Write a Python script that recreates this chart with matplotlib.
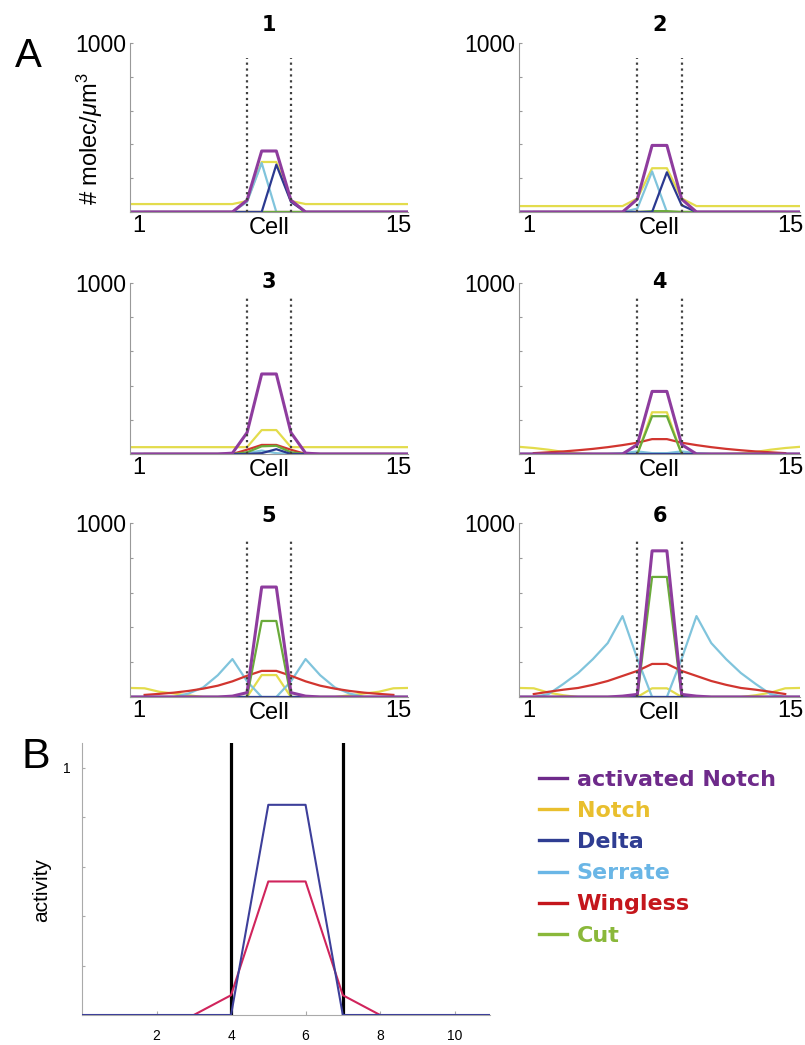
import numpy as np
import matplotlib
matplotlib.use("Agg")
import matplotlib.pyplot as plt
from matplotlib.lines import Line2D

plt.rcParams['font.family'] = ['Liberation Sans', 'DejaVu Sans']
plt.rcParams['mathtext.fontset'] = 'custom'
plt.rcParams['mathtext.rm'] = 'Liberation Sans'
plt.rcParams['mathtext.it'] = 'Liberation Sans:italic'

nan = np.nan

# 20 compartments spread over cells 1..15
CELL_X = np.linspace(0.5, 15.5, 20)
BOUNDARY_IDX = [8, 11]

# panel A values, molecules / um^3, one list per species and time point
ACT = [
    [0, 0, 0, 0, 0, 0, 0, 0, 70, 361, 361, 70, 0, 0, 0, 0, 0, 0, 0, 0],
    [0, 0, 0, 0, 0, 0, 0, 0, 76, 394, 394, 76, 0, 0, 0, 0, 0, 0, 0, 0],
    [0, 0, 0, 0, 0, 0, 0, 5, 125, 468, 468, 125, 5, 0, 0, 0, 0, 0, 0, 0],
    [0, 0, 0, 0, 0, 0, 0, 0, 55, 366, 366, 55, 0, 0, 0, 0, 0, 0, 0, 0],
    [0, 0, 0, 0, 0, 0, 0, 5, 25, 632, 632, 25, 5, 0, 0, 0, 0, 0, 0, 0],
    [0, 0, 0, 0, 0, 0, 0, 5, 15, 840, 840, 15, 5, 0, 0, 0, 0, 0, 0, 0],
]
NOTCH = [
    [47, 47, 47, 47, 47, 47, 47, 47, 65, 296, 296, 65, 47, 47, 47, 47, 47, 47, 47, 47],
    [35, 35, 35, 35, 35, 35, 35, 35, 80, 259, 259, 80, 35, 35, 35, 35, 35, 35, 35, 35],
    [40, 40, 40, 40, 40, 40, 40, 40, 40, 140, 140, 40, 40, 40, 40, 40, 40, 40, 40, 40],
    [42, 35, 25, 12, 3, 0, 0, 0, 0, 244, 244, 0, 0, 0, 0, 3, 12, 25, 35, 42],
    [52, 50, 30, 20, 10, 0, 0, 0, 0, 126, 126, 0, 0, 0, 0, 10, 20, 30, 50, 52],
    [52, 50, 25, 10, 0, 0, 0, 0, 0, 50, 50, 0, 0, 0, 0, 0, 10, 25, 50, 52],
]
DELTA = [
    [0, 0, 0, 0, 0, 0, 0, 0, 0, 0, 280, 60, 0, 0, 0, 0, 0, 0, 0, 0],
    [0, 0, 0, 0, 0, 0, 0, 0, 0, 0, 235, 40, 0, 0, 0, 0, 0, 0, 0, 0],
    [0, 0, 0, 0, 0, 0, 0, 0, 0, 5, 28, 0, 0, 0, 0, 0, 0, 0, 0, 0],
    [0, 0, 0, 0, 0, 0, 0, 0, 0, 0, 0, 0, 0, 0, 0, 0, 0, 0, 0, 0],
    [0, 0, 0, 0, 0, 0, 0, 0, 0, 0, 0, 0, 0, 0, 0, 0, 0, 0, 0, 0],
    [0, 0, 0, 0, 0, 0, 0, 0, 0, 0, 0, 0, 0, 0, 0, 0, 0, 0, 0, 0],
]
SERRATE = [
    [0, 0, 0, 0, 0, 0, 0, 0, 60, 290, 0, 0, 0, 0, 0, 0, 0, 0, 0, 0],
    [0, 0, 0, 0, 0, 0, 0, 0, 20, 240, 0, 0, 0, 0, 0, 0, 0, 0, 0, 0],
    [0, 0, 0, 0, 0, 0, 0, 0, 5, 20, 5, 0, 0, 0, 0, 0, 0, 0, 0, 0],
    [0, 0, 0, 0, 0, 0, 0, 5, 15, 5, 5, 15, 5, 0, 0, 0, 0, 0, 0, 0],
    [0, 0, 0, 0, 20, 55, 125, 218, 90, 0, 0, 90, 218, 125, 55, 20, 0, 0, 0, 0],
    [0, 0, 17, 75, 138, 218, 310, 465, 220, 0, 0, 220, 465, 310, 218, 138, 75, 17, 0, 0],
]
WINGLESS = [
    [nan, 0, 0, 0, 0, 0, 0, 0, 0, 0, 0, 0, 0, 0, 0, 0, 0, 0, 0, nan],
    [nan, 0, 0, 0, 0, 0, 0, 0, 0, 0, 0, 0, 0, 0, 0, 0, 0, 0, 0, nan],
    [nan, 0, 0, 0, 0, 0, 0, 0, 25, 53, 53, 25, 0, 0, 0, 0, 0, 0, 0, nan],
    [nan, 5, 10, 15, 22, 30, 40, 52, 66, 87, 87, 66, 52, 40, 30, 22, 15, 10, 5, nan],
    [nan, 12, 18, 25, 35, 48, 65, 90, 122, 150, 150, 122, 90, 65, 48, 35, 25, 18, 12, nan],
    [nan, 17, 30, 42, 52, 70, 92, 121, 150, 190, 190, 150, 121, 92, 70, 52, 42, 30, 17, nan],
]
CUT = [
    [0, 0, 0, 0, 0, 0, 0, 0, 0, 0, 0, 0, 0, 0, 0, 0, 0, 0, 0, 0],
    [0, 0, 0, 0, 0, 0, 0, 0, 0, 5, 5, 0, 0, 0, 0, 0, 0, 0, 0, 0],
    [0, 0, 0, 0, 0, 0, 0, 0, 10, 45, 48, 10, 0, 0, 0, 0, 0, 0, 0, 0],
    [0, 0, 0, 0, 0, 0, 0, 0, 0, 221, 221, 0, 0, 0, 0, 0, 0, 0, 0, 0],
    [0, 0, 0, 0, 0, 0, 0, 0, 0, 437, 437, 0, 0, 0, 0, 0, 0, 0, 0, 0],
    [0, 0, 0, 0, 0, 0, 0, 0, 0, 690, 690, 0, 0, 0, 0, 0, 0, 0, 0, 0],
]
PANEL_TITLES = ['1', '2', '3', '4', '5', '6']

# panel B
B_X = [0, 1, 2, 3, 4, 5, 6, 7, 8, 9, 10, 11]
B_BLUE = [0, 0, 0, 0, 0, 0.85, 0.85, 0, 0, 0, 0, 0]
B_PINK = [nan, nan, nan, 0, 0.08, 0.54, 0.54, 0.08, 0, nan, nan, nan]
B_BOUNDS = [4, 7]

LEGEND_NAMES = ['activated Notch', 'Notch', 'Delta', 'Serrate', 'Wingless', 'Cut']
LEGEND_COLORS = ['#6e2a8a', '#e9bf2e', '#2f3d92', '#6ab6e6', '#c4161c', '#8ab83a']

C_ACT = '#8e3c9e'
C_NOTCH = '#e3dc4c'
C_DELTA = '#2b3990'
C_SERR = '#80c4dc'
C_WG = '#d1352f'
C_CUT = '#6aaa3a'

W, H = 805, 1045
fig = plt.figure(figsize=(W / 100, H / 100), dpi=100)


def px_axes(left, top, right, bottom):
    return fig.add_axes([left / W, 1 - bottom / H, (right - left) / W, (bottom - top) / H])


row_tops = [43, 283, 523]
row_bottoms = [212, 454, 697]
col_lefts = [130, 519]
col_rights = [408, 800]
title_y = [25, 282, 516]

for i in range(6):
    r, c = divmod(i, 2)
    ax = px_axes(col_lefts[c], row_tops[r], col_rights[c], row_bottoms[r])
    ax.plot(CELL_X, NOTCH[i], color=C_NOTCH, lw=1.6)
    ax.plot(CELL_X, SERRATE[i], color=C_SERR, lw=1.6)
    ax.plot(CELL_X, WINGLESS[i], color=C_WG, lw=1.6)
    ax.plot(CELL_X, CUT[i], color=C_CUT, lw=1.6)
    ax.plot(CELL_X, DELTA[i], color=C_DELTA, lw=1.6)
    ax.plot(CELL_X, ACT[i], color=C_ACT, lw=2.2)
    ax.vlines(CELL_X[BOUNDARY_IDX], 0, 910, colors='#404040', linestyles=':', lw=1.6)

    ax.set_xlim(0.5, 15.5)
    ax.set_ylim(0, 1000)
    ax.set_xticks([1, 15])
    ax.set_xticklabels(['1', '15'], fontsize=17)
    ax.set_yticks([0, 200, 400, 600, 800, 1000])
    ax.set_yticklabels(['', '', '', '', '', '1000'], fontsize=16.5)
    ax.tick_params(axis='x', length=0, pad=2)
    ax.tick_params(axis='y', direction='in', length=2, color='#999999', pad=3)
    for s in ['top', 'right']:
        ax.spines[s].set_visible(False)
    for s in ['left', 'bottom']:
        ax.spines[s].set_color('#999999')
        ax.spines[s].set_linewidth(0.8)
    ax.text(0.5, -0.03, 'Cell', transform=ax.transAxes, ha='center', va='top', fontsize=17)

    cx = (col_lefts[c] + col_rights[c]) / 2
    fig.text(cx / W, 1 - title_y[r] / H, PANEL_TITLES[i], ha='center', va='center',
             fontsize=15, fontweight='bold', family='DejaVu Sans')

fig.text(90 / W, 1 - 139 / H, r'# molec/$\mu$m$^3$', rotation=90, ha='center', va='center', fontsize=17)
fig.text(28 / W, 1 - 56 / H, 'A', ha='center', va='center', fontsize=29)
fig.text(36 / W, 1 - 757 / H, 'B', ha='center', va='center', fontsize=31)

# panel B
axb = px_axes(82, 743, 490, 1015)
for xb in B_BOUNDS:
    axb.axvline(xb, color='black', lw=2.3, zorder=3)
axb.plot(B_X, B_PINK, color='#d0245c', lw=1.5, zorder=4)
axb.plot(B_X, B_BLUE, color='#3d3f9a', lw=1.5, zorder=5)
axb.set_xlim(0, 10.95)
axb.set_ylim(0, 1.1)
axb.set_xticks([2, 4, 6, 8, 10])
axb.set_xticklabels(['2', '4', '6', '8', '10'], fontsize=10)
axb.set_yticks([0.2, 0.4, 0.6, 0.8, 1.0])
axb.set_yticklabels(['', '', '', '', '1'], fontsize=10)
axb.tick_params(axis='x', direction='in', length=3, color='#aaaaaa', pad=10)
axb.tick_params(axis='y', direction='in', length=2, color='#aaaaaa', pad=8)
for s in ['top', 'right']:
    axb.spines[s].set_visible(False)
for s in ['left', 'bottom']:
    axb.spines[s].set_color('#aaaaaa')
    axb.spines[s].set_linewidth(0.8)
axb.set_ylabel('activity', fontsize=15)
axb.yaxis.set_label_coords(-0.075, 0.46)

handles = [Line2D([], [], color=col, lw=2.4) for col in LEGEND_COLORS]
leg = fig.legend(handles, LEGEND_NAMES, loc='upper left', bbox_to_anchor=(539 / W, 1 - 770 / H),
                 frameon=False, borderpad=0, borderaxespad=0, handlelength=1.25,
                 handletextpad=0.45, labelspacing=0.5,
                 prop={'family': 'DejaVu Sans', 'weight': 'bold', 'size': 16})
for txt, col in zip(leg.get_texts(), LEGEND_COLORS):
    txt.set_color(col)

fig.savefig('out.png', dpi=100)
